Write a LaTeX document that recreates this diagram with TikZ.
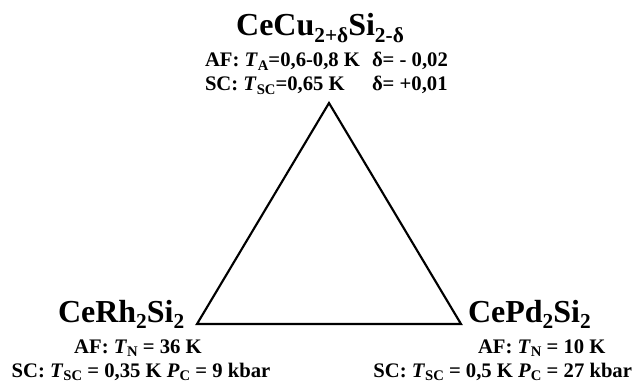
\documentclass[tikz,border=0pt]{standalone}
\usepackage{fontspec}
\setmainfont{Liberation Serif}
\newcommand{\bigsubx}[1]{\raisebox{-0.42ex}{\fontsize{16}{16}\selectfont #1}}
\newcommand{\smallsubx}[1]{\raisebox{-0.4ex}{\fontsize{11}{11}\selectfont #1}}
\begin{document}
\begin{tikzpicture}[x=0.75pt,y=-0.75pt,
  every node/.style={inner sep=0pt,outer sep=0pt,font=\bfseries},
  compound/.style={font=\fontsize{24}{24}\selectfont\bfseries},
  prop/.style={font=\fontsize{15.5}{15.5}\selectfont\bfseries},
  edge/.style={line width=1.6pt,line join=miter}]
\useasboundingbox (0,0) rectangle (640,385);
% triangle corners
\coordinate (top) at (329,103);
\coordinate (bl) at (197,324);
\coordinate (br) at (461,324);
\draw[edge] (top) -- (bl) -- (br) -- cycle;
% top
\node[compound,anchor=base] (cu) at (320,36) {CeCu\bigsubx{2+δ}Si\bigsubx{2-δ}};
\node[prop,anchor=base west] (cuaf) at (205,67) {AF: \textit{T}\smallsubx{A}=0,6-0,8 K};
\node[prop,anchor=base west] (cusc) at (205,91) {SC: \textit{T}\smallsubx{SC}=0,65 K};
\node[prop,anchor=base west] (cuafd) at (372,67) {δ= - 0,02};
\node[prop,anchor=base west] (cuscd) at (372,91) {δ= +0,01};
% bottom left
\node[compound,anchor=base west] (rh) at (58,322) {CeRh\bigsubx{2}Si\bigsubx{2}};
\node[prop,anchor=base] (rhaf) at (138,353) {AF: \textit{T}\smallsubx{N} = 36 K};
\node[prop,anchor=base] (rhsc) at (141,377) {SC: \textit{T}\smallsubx{SC} = 0,35 K \textit{P}\smallsubx{C} = 9 kbar};
% bottom right
\node[compound,anchor=base west] (pd) at (468,322) {CePd\bigsubx{2}Si\bigsubx{2}};
\node[prop,anchor=base west] (pdaf) at (478,353) {AF: \textit{T}\smallsubx{N} = 10 K};
\node[prop,anchor=base east] (pdsc) at (632,377) {SC: \textit{T}\smallsubx{SC} = 0,5 K \textit{P}\smallsubx{C} = 27 kbar};
\end{tikzpicture}
\end{document}
